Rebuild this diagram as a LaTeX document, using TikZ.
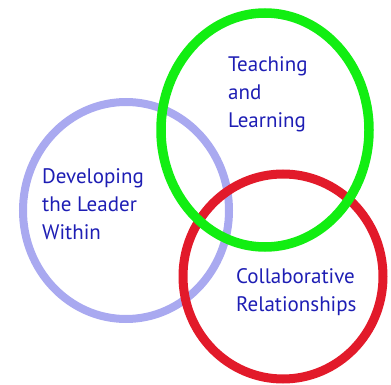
\documentclass[tikz,border=0pt]{standalone}
\usepackage{fontspec}
\setmainfont{PT Sans}
\definecolor{lav}{HTML}{A9A9F0}
\definecolor{grn}{HTML}{12EE12}
\definecolor{rd}{HTML}{E21A2A}
\definecolor{txt}{HTML}{1E1EB4}
\begin{document}
\begin{tikzpicture}[x=1pt,y=-1pt,
  ringl/.style={draw=lav, line width=8pt},
  ringr/.style={draw=rd, line width=9pt},
  ringg/.style={draw=grn, line width=9.5pt},
  lbl/.style={text=txt, font=\fontsize{21}{28}\selectfont, align=left, inner sep=0pt, anchor=base west}]
\useasboundingbox (0,0) rectangle (391,385);
\path[ringl] (126,210.5) ellipse [x radius=103, y radius=108.5];
\path[ringr] (283,276.5) ellipse [x radius=100, y radius=102.5];
\path[ringg] (265,130) ellipse [x radius=104, y radius=117];
\node[lbl] (teach) at (228,128) {Teaching\\and\\Learning};
\node[lbl] (lead) at (42,239) {Developing\\the Leader\\Within};
\node[lbl] (collab) at (236,311) {Collaborative\\Relationships};
\end{tikzpicture}
\end{document}
